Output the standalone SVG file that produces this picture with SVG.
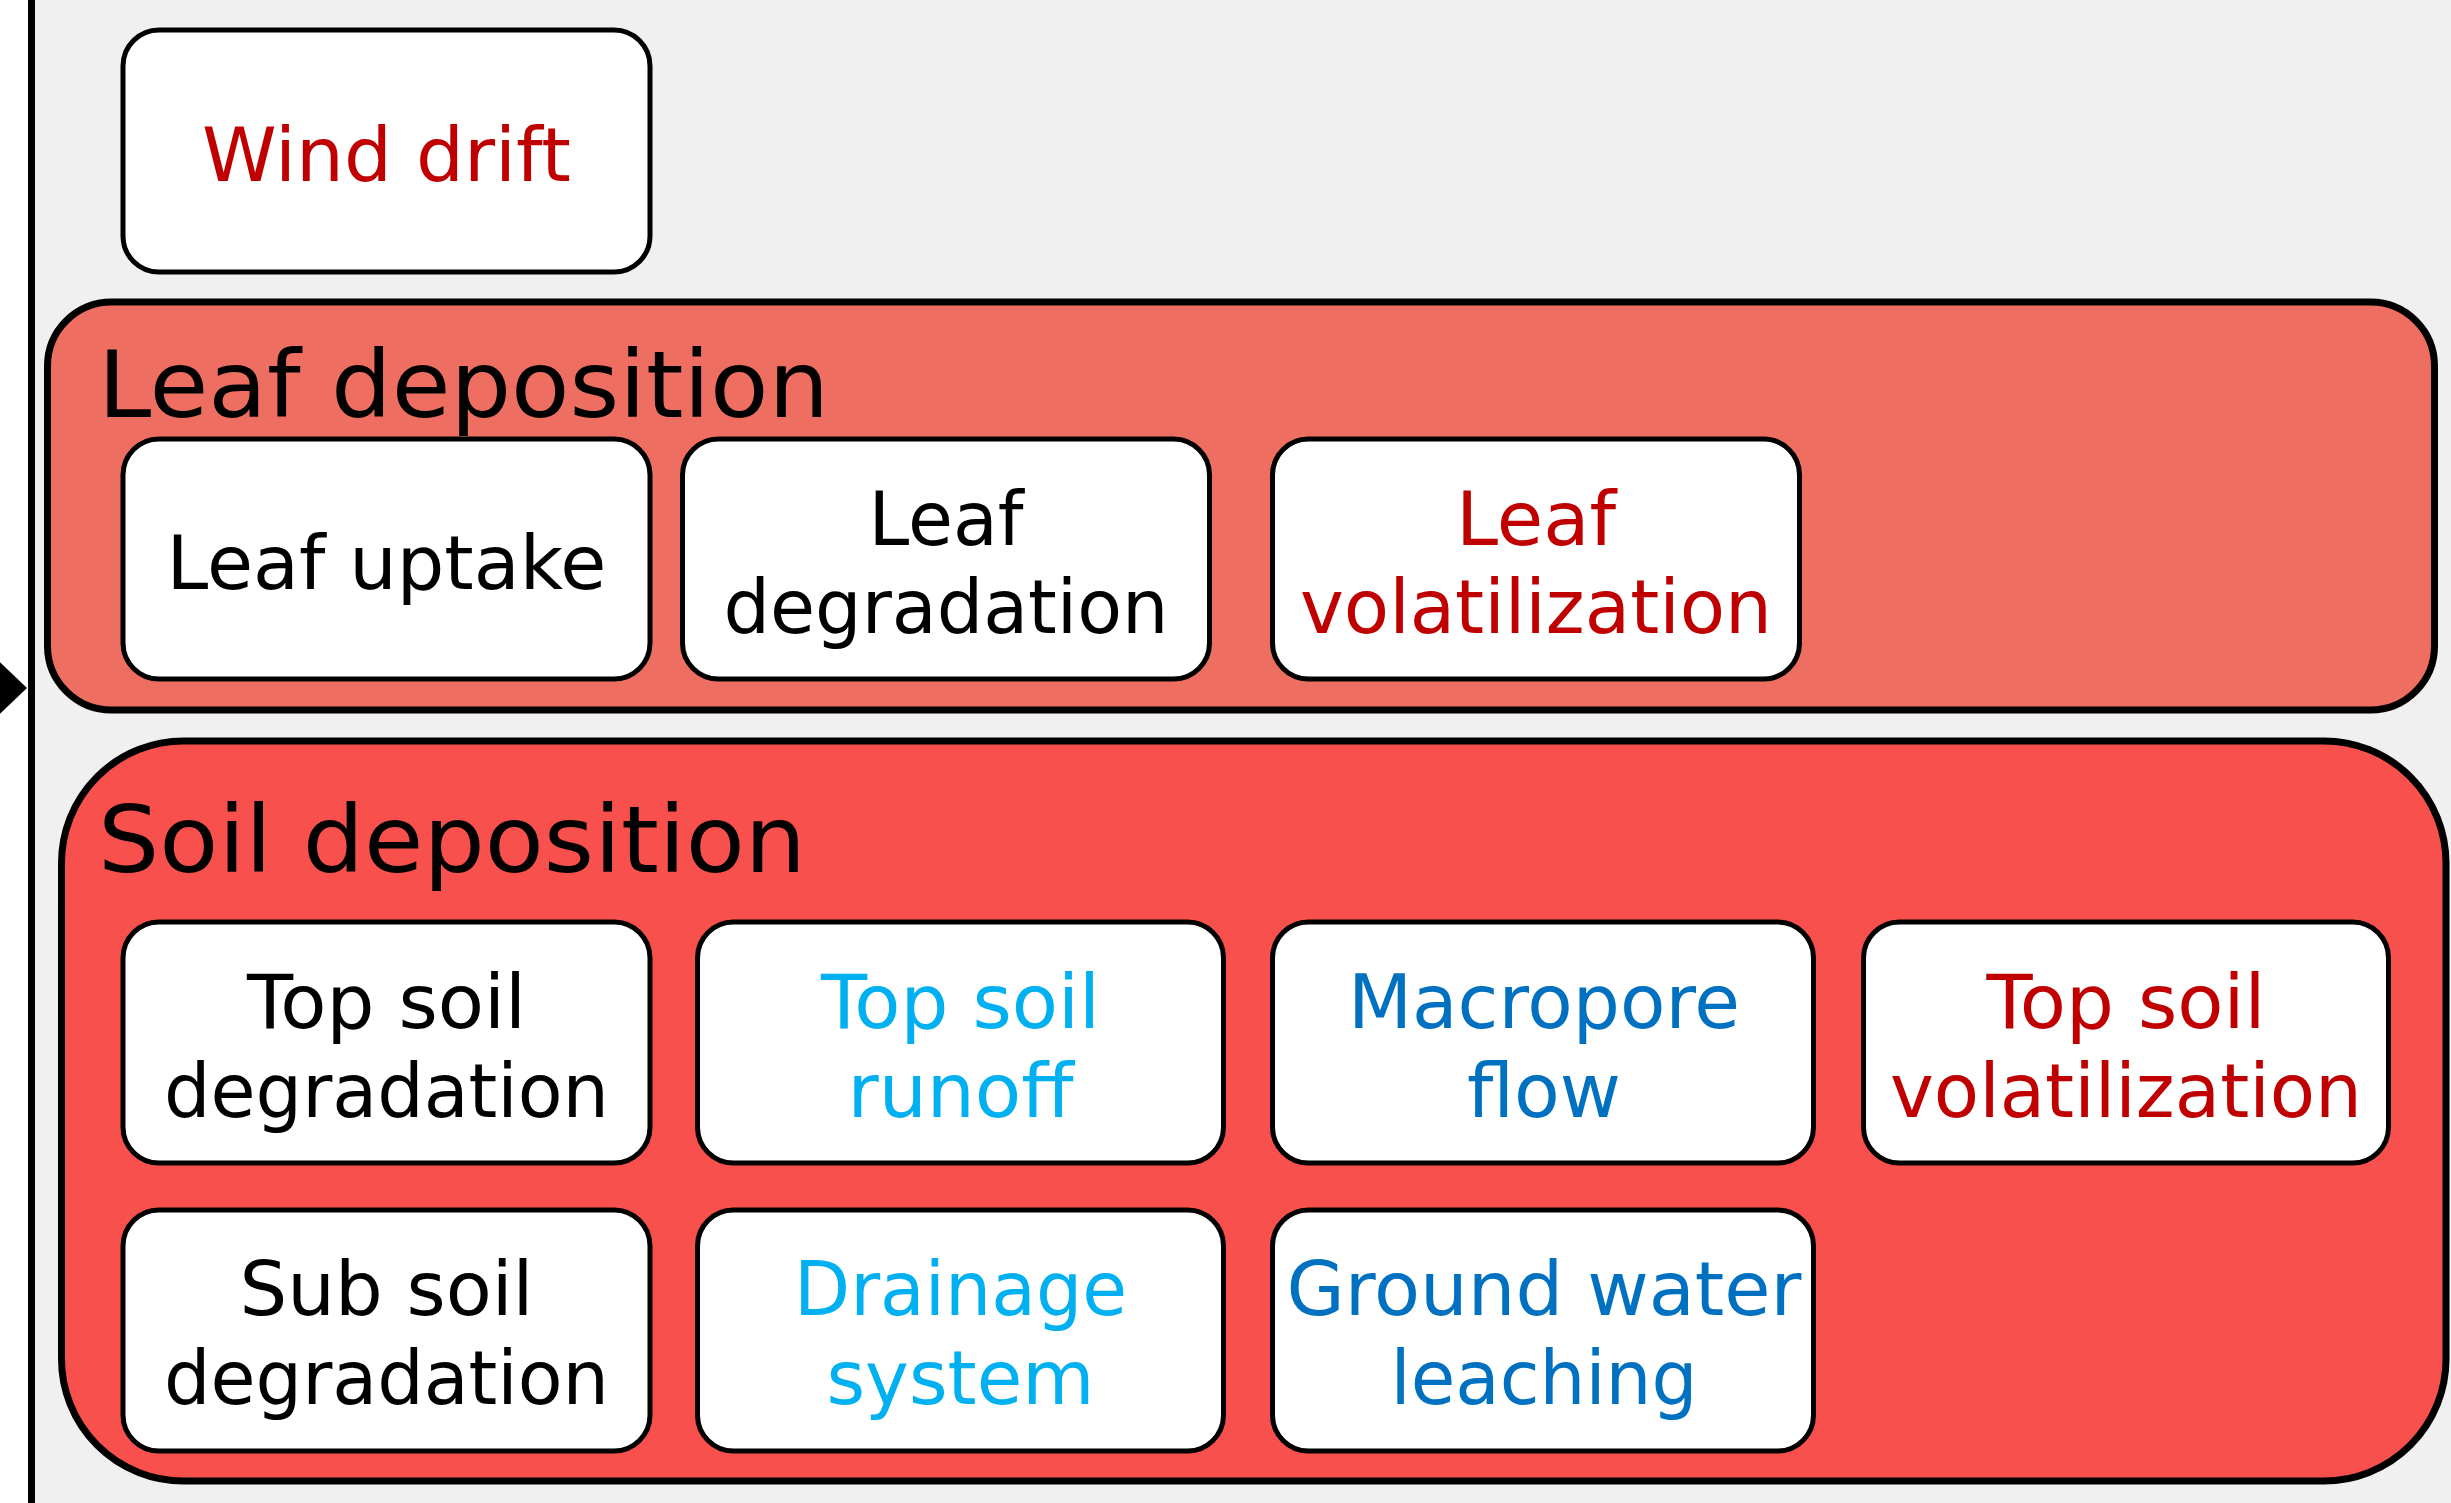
<svg xmlns="http://www.w3.org/2000/svg" width="2451" height="1503" viewBox="0 0 2451 1503">
  <style>
    text { font-family: "DejaVu Sans", "Noto Sans", "Liberation Sans", sans-serif; }
    .box { fill: #ffffff; stroke: #000000; stroke-width: 5; }
    .lbl { font-size: 74px; text-anchor: middle; }
    .title { font-size: 92px; fill: #000000; }
    .k { fill: #000000; }
    .r { fill: #C00000; }
    .lb { fill: #00B0F0; }
    .db { fill: #0070C0; }
    .cont { stroke: #000000; stroke-width: 7; }
  </style>
  <defs>
    <marker id="arrow" viewBox="0 0 40 76" refX="27" refY="38" markerWidth="40" markerHeight="76" markerUnits="userSpaceOnUse" orient="auto">
      <path d="M0,0 L40,38 L0,76 z" fill="#000000"/>
    </marker>
  </defs>

  <rect x="0" y="0" width="2451" height="1503" fill="#ffffff"/>

  <g id="outer-container">
    <rect x="31.5" y="-50" width="2600" height="1700" fill="#F0F0F0" stroke="#000000" stroke-width="7"/>
  </g>

  <g id="connectors">
    <path d="M-120,688 L14,688" stroke="#000000" stroke-width="5" fill="none" marker-end="url(#arrow)"/>
  </g>

  <g id="wind-drift">
    <rect class="box" x="123" y="30" width="527" height="242" rx="36" ry="36"/>
    <text class="lbl r" x="386.5" y="181" textLength="369" lengthAdjust="spacingAndGlyphs">Wind drift</text>
  </g>

  <g id="leaf-deposition">
    <rect class="cont" x="47.5" y="302" width="2387" height="408" rx="64" ry="64" fill="#EE6F61"/>
    <text class="title" x="98" y="417" textLength="731" lengthAdjust="spacingAndGlyphs">Leaf deposition</text>
  </g>

  <g id="leaf-uptake">
    <rect class="box" x="123" y="439" width="527" height="240" rx="36" ry="36"/>
    <text class="lbl k" x="386.5" y="589" textLength="440" lengthAdjust="spacingAndGlyphs">Leaf uptake</text>
  </g>

  <g id="leaf-degradation">
    <rect class="box" x="682.5" y="439" width="527" height="240" rx="36" ry="36"/>
    <text class="lbl k" x="946" y="545" textLength="155" lengthAdjust="spacingAndGlyphs">Leaf</text>
    <text class="lbl k" x="946" y="633" textLength="445" lengthAdjust="spacingAndGlyphs">degradation</text>
  </g>

  <g id="leaf-volatilization">
    <rect class="box" x="1272.5" y="439" width="527" height="240" rx="36" ry="36"/>
    <text class="lbl r" x="1536" y="545" textLength="160" lengthAdjust="spacingAndGlyphs">Leaf</text>
    <text class="lbl r" x="1536" y="633" textLength="472" lengthAdjust="spacingAndGlyphs">volatilization</text>
  </g>

  <g id="soil-deposition">
    <rect class="cont" x="61.5" y="741" width="2384.5" height="740" rx="122" ry="122" fill="#F8504C" stroke-width="7.5"/>
    <text class="title" x="98" y="872" textLength="708" lengthAdjust="spacingAndGlyphs">Soil deposition</text>
  </g>

  <g id="top-soil-degradation">
    <rect class="box" x="123" y="922" width="527" height="241" rx="36" ry="36"/>
    <text class="lbl k" x="386.5" y="1028" textLength="279" lengthAdjust="spacingAndGlyphs">Top soil</text>
    <text class="lbl k" x="386.5" y="1117" textLength="445" lengthAdjust="spacingAndGlyphs">degradation</text>
  </g>

  <g id="top-soil-runoff">
    <rect class="box" x="697.5" y="922" width="526" height="241" rx="36" ry="36"/>
    <text class="lbl lb" x="960.5" y="1028" textLength="279" lengthAdjust="spacingAndGlyphs">Top soil</text>
    <text class="lbl lb" x="960.5" y="1117" textLength="226" lengthAdjust="spacingAndGlyphs">runoff</text>
  </g>

  <g id="macropore-flow">
    <rect class="box" x="1272.5" y="922" width="541" height="241" rx="36" ry="36"/>
    <text class="lbl db" x="1544" y="1028" textLength="392" lengthAdjust="spacingAndGlyphs">Macropore</text>
    <text class="lbl db" x="1544" y="1117" textLength="154" lengthAdjust="spacingAndGlyphs">flow</text>
  </g>

  <g id="top-soil-volatilization">
    <rect class="box" x="1863.5" y="922" width="525" height="241" rx="36" ry="36"/>
    <text class="lbl r" x="2126" y="1028" textLength="279" lengthAdjust="spacingAndGlyphs">Top soil</text>
    <text class="lbl r" x="2126" y="1117" textLength="472" lengthAdjust="spacingAndGlyphs">volatilization</text>
  </g>

  <g id="sub-soil-degradation">
    <rect class="box" x="123" y="1210" width="527" height="241" rx="36" ry="36"/>
    <text class="lbl k" x="386.5" y="1315" textLength="294" lengthAdjust="spacingAndGlyphs">Sub soil</text>
    <text class="lbl k" x="386.5" y="1404" textLength="445" lengthAdjust="spacingAndGlyphs">degradation</text>
  </g>

  <g id="drainage-system">
    <rect class="box" x="697.5" y="1210" width="526" height="241" rx="36" ry="36"/>
    <text class="lbl lb" x="960.5" y="1315" textLength="333" lengthAdjust="spacingAndGlyphs">Drainage</text>
    <text class="lbl lb" x="960.5" y="1404" textLength="268" lengthAdjust="spacingAndGlyphs">system</text>
  </g>

  <g id="ground-water-leaching">
    <rect class="box" x="1272.5" y="1210" width="541" height="241" rx="36" ry="36"/>
    <text class="lbl db" x="1544" y="1315" textLength="515" lengthAdjust="spacingAndGlyphs">Ground water</text>
    <text class="lbl db" x="1544" y="1404" textLength="307" lengthAdjust="spacingAndGlyphs">leaching</text>
  </g>
</svg>
